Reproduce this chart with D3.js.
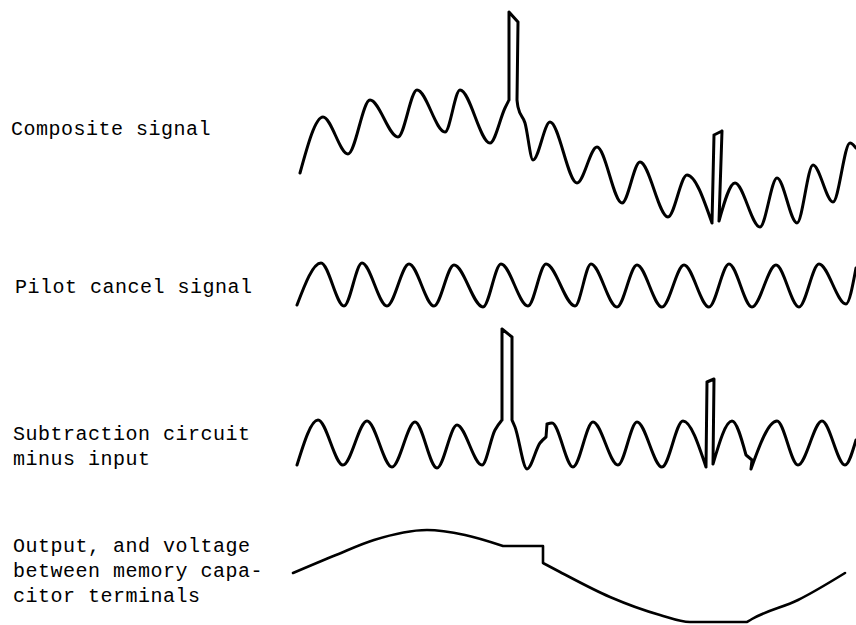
<!DOCTYPE html>
<html>
<head>
<meta charset="utf-8">
<script src="https://cdn.jsdelivr.net/npm/d3@7"></script>
<style>
    body { margin: 0; background: #fff; }
    svg text { font-family: "Liberation Mono", "DejaVu Sans Mono", monospace; }
</style>
</head>
<body>
<div id="graph"></div>
<script>
// Waveforms, time t (arbitrary units, shared by all traces) and level v.
// A third value of 1 marks a sharp vertex (edges of the pulses); the
// rest are joined with a smooth curve.
const compositeSignal = [
    [1.4, 5.7], [3.7, 11.3], [6.2, 7.6], [8.4, 13.0], [11.2, 9.3], [13.1, 14.0],
    [15.9, 9.8], [17.4, 14.0], [20.4, 8.7], [21.9, 12.2],
    [22.3, 13.0, 1], [22.3, 21.8, 1], [23.2, 20.8, 1], [23.1, 13.0, 1],
    [23.2, 12.3], [23.9, 10.7], [24.7, 7.0], [26.4, 10.8], [29.1, 4.7], [31.1, 8.3],
    [33.6, 2.7], [35.4, 6.8], [38.2, 1.3], [40.1, 5.5],
    [42.6, 0.7, 1], [42.8, 9.5, 1], [43.6, 9.9, 1], [43.3, 0.9, 1],
    [44.9, 4.7], [47.4, 0.3], [49.1, 5.2], [51.1, 0.7], [52.7, 6.5], [54.7, 2.8],
    [56.4, 8.7], [57.0, 8.2]
];

const pilotCancelSignal = [
    [1.1, -2.0], [3.5, 2.2], [5.8, -2.1], [7.6, 2.2], [10.1, -2.1], [12.3, 2.1],
    [14.8, -2.1], [16.8, 2.0], [19.7, -2.2], [21.5, 2.1], [24.2, -2.1], [26.0, 2.1],
    [28.9, -2.1], [30.5, 2.1], [33.1, -2.2], [35.1, 2.0], [37.6, -2.2], [39.8, 2.0],
    [42.3, -2.2], [44.3, 2.1], [46.6, -2.2], [49.0, 2.0], [51.3, -2.2], [53.3, 2.1],
    [56.0, -1.9], [57.0, 1.7]
];

const subtractionMinusInput = [
    [1.1, 0.5], [3.2, 5.0], [5.7, 0.5], [8.1, 4.9], [10.6, 0.3], [12.9, 4.8],
    [15.1, 0.2], [17.1, 4.5], [19.6, 0.5], [20.9, 4.0],
    [21.6, 5.0, 1], [21.6, 14.1, 1], [22.6, 13.3, 1], [22.6, 5.0, 1],
    [22.9, 4.3], [24.1, 0.1], [25.4, 2.7], [26.0, 3.3, 1], [26.1, 4.6, 1],
    [26.6, 4.7], [28.7, 0.3], [30.7, 4.8], [33.2, 0.5], [35.1, 4.8], [37.6, 0.3],
    [39.7, 4.9],
    [42.0, 0.3, 1], [42.1, 8.8, 1], [42.8, 9.1, 1], [42.7, 0.6, 1],
    [44.6, 4.9], [46.0, 1.5, 1], [46.6, 1.0, 1], [46.5, 0.1, 1],
    [49.1, 4.9], [51.2, 0.5], [53.6, 4.9], [55.9, 0.5], [57.0, 3.0]
];

const outputVoltage = [
    [0.7, 5.2], [5.0, 7.0], [8.8, 8.5], [14.1, 9.5], [17.9, 9.0],
    [21.7, 7.9, 1], [25.7, 7.9, 1], [25.7, 6.2, 1],
    [27.4, 5.3], [32.4, 2.8], [37.4, 1.0], [40.4, 0.3], [46.1, 0.3, 1],
    [46.6, 0.6], [51.2, 2.5], [55.9, 5.2]
];

// label text for each trace, one entry per line
const compositeLabel = ["Composite signal"];
const pilotLabel = ["Pilot cancel signal"];
const subtractionLabel = ["Subtraction circuit", "minus input"];
const outputLabel = ["Output, and voltage", "between memory capa-", "citor terminals"];

const timeDomain = [0, 57];

// layout of the four rows
const width = 856, height = 625;
const rows = [
    { data: compositeSignal,       label: compositeLabel,   zeroY: 230, labelX: 11, labelY: 135, stroke: 3 },
    { data: pilotCancelSignal,     label: pilotLabel,       zeroY: 285, labelX: 15, labelY: 293, stroke: 3 },
    { data: subtractionMinusInput, label: subtractionLabel, zeroY: 470, labelX: 13, labelY: 440, stroke: 3 },
    { data: outputVoltage,         label: outputLabel,      zeroY: 625, labelX: 13, labelY: 552, stroke: 2.6 }
];
const unitPx = 10;      // pixels per level unit
const lineGap = 25;     // label line spacing

const svg = d3.select("#graph")
    .append("svg")
    .attr("width", width)
    .attr("height", height);

// shared time scale
const x = d3.scaleLinear()
    .domain(timeDomain)
    .range([286, 856]);

// break a trace at its sharp vertices so each piece gets its own curve
function splitRuns(pts){
    const runs = [];
    let cur = [pts[0]];
    for (let i = 1; i < pts.length; i++) {
        cur.push(pts[i]);
        if (pts[i][2]) {
            runs.push(cur);
            cur = [pts[i]];
        }
    }
    if (cur.length > 1) runs.push(cur);
    return runs;
}

rows.forEach(function(row){
    const y = d3.scaleLinear()
        .domain([0, 10])
        .range([row.zeroY, row.zeroY - 10 * unitPx]);

    const line = d3.line()
        .x(function(d){ return x(d[0]); })
        .y(function(d){ return y(d[1]); })
        .curve(d3.curveMonotoneX);

    const d = splitRuns(row.data).map(function(run){ return line(run); }).join("");

    svg.append("path")
        .attr("d", d)
        .attr("fill", "none")
        .attr("stroke", "#000")
        .attr("stroke-width", row.stroke)
        .attr("stroke-linejoin", "round")
        .attr("stroke-linecap", "round");

    // label
    const txt = svg.append("text")
        .attr("x", row.labelX)
        .attr("y", row.labelY)
        .attr("font-size", 20)
        .attr("letter-spacing", 0.5)
        .attr("fill", "#000");
    txt.selectAll("tspan")
        .data(row.label)
        .enter().append("tspan")
        .attr("x", row.labelX)
        .attr("dy", function(d, i){ return i == 0 ? 0 : lineGap; })
        .text(function(d){ return d; });
});
</script>
</body>
</html>
